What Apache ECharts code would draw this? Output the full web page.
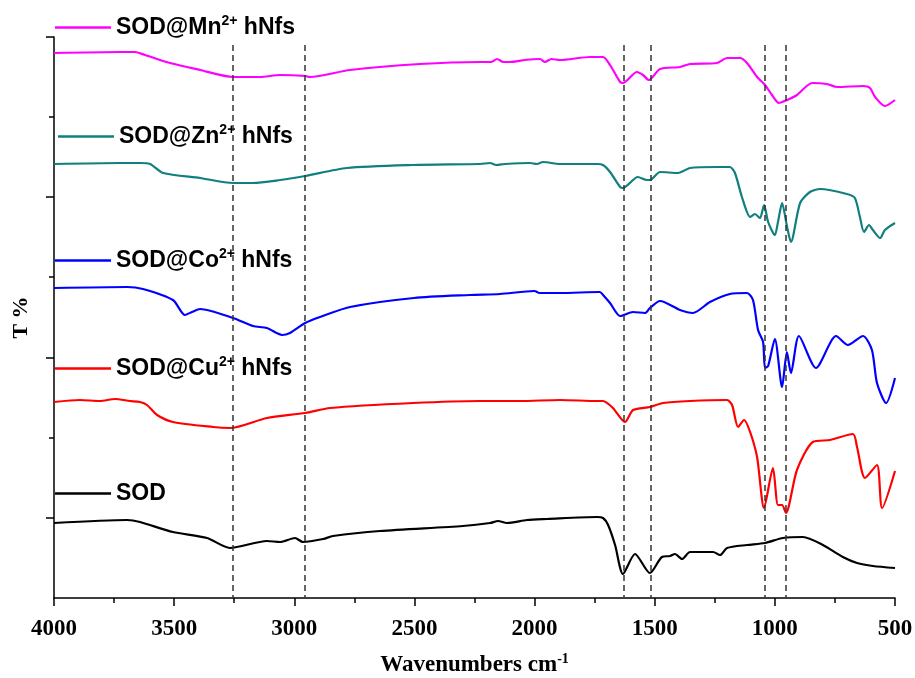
<!DOCTYPE html>
<html>
<head>
<meta charset="utf-8">
<script src="https://cdn.jsdelivr.net/npm/echarts@6/dist/echarts.min.js"></script>
<style>
  html, body { margin: 0; padding: 0; background: #fff; }
  #chart { width: 915px; height: 678px; }
</style>
</head>
<body>
<div id="chart"></div>
<script>
  // wavenumber (cm-1) / transmittance (arbitrary offset units)
  const sodMn = [[4000,545],[3725,546],[3663,546],[3621,543],[3517,535],[3392,528],[3255,521],[3143,521],[3059,523],[2955,522],[2935,521],[2768,528],[2477,534],[2227,536],[2180,536],[2156,539],[2130,536],[2102,536],[2040,538],[1977,539],[1957,536],[1930,539],[1894,538],[1769,541],[1715,541],[1686,533],[1644,516],[1632,515],[1574,526],[1549,523],[1524,518],[1478,529],[1395,531],[1353,534],[1241,535],[1199,540],[1145,540],[1116,535],[1074,521],[1041,513],[1012,503],[983,495],[949,498],[908,503],[845,515],[783,514],[741,511],[633,512],[604,510],[583,501],[542,492],[500,498]];
  const sodZn = [[4000,434],[3725,435],[3642,435],[3600,434],[3546,425],[3392,420],[3255,415],[3172,415],[3059,418],[2955,422],[2781,430],[2506,433],[2227,434],[2185,435],[2160,433],[2123,434],[2019,435],[1990,434],[1965,436],[1894,434],[1740,434],[1715,433],[1686,426],[1644,411],[1632,410],[1570,421],[1533,418],[1520,418],[1478,426],[1403,425],[1353,430],[1241,431],[1187,431],[1166,425],[1137,401],[1103,381],[1083,384],[1062,380],[1045,393],[1028,376],[1000,363],[987,376],[970,395],[949,371],[933,356],[895,395],[854,406],[812,409],[700,404],[667,400],[646,381],[629,366],[608,373],[592,368],[562,360],[542,368],[500,375]];
  const sodCo = [[4000,310],[3696,311],[3630,309],[3505,298],[3455,283],[3426,286],[3392,289],[3255,280],[3172,272],[3114,270],[3051,263],[3018,265],[2955,275],[2893,281],[2768,291],[2502,300],[2269,303],[2144,304],[2000,307],[1980,305],[1894,305],[1728,306],[1715,303],[1686,295],[1644,282],[1590,286],[1540,285],[1520,290],[1478,297],[1395,288],[1341,285],[1270,296],[1187,304],[1116,305],[1091,298],[1070,268],[1049,256],[1041,230],[1028,232],[1000,259],[970,211],[950,246],[933,225],[900,262],[829,230],[745,262],[696,253],[633,262],[596,248],[575,215],[537,195],[500,220]];
  const sodCu = [[4000,196],[3892,198],[3809,197],[3746,199],[3684,197],[3642,196],[3613,193],[3571,183],[3505,176],[3338,171],[3268,170],[3114,180],[2955,185],[2851,190],[2506,195],[2227,197],[2061,197],[1894,198],[1740,197],[1715,197],[1674,190],[1624,176],[1590,188],[1520,191],[1465,195],[1353,197],[1199,198],[1178,193],[1153,171],[1128,178],[1103,166],[1074,141],[1045,90],[1008,130],[987,93],[970,93],[954,85],[908,128],[842,156],[770,158],[675,164],[658,151],[625,120],[575,133],[554,90],[500,127]];
  const sodPure = [[4000,75],[3696,78],[3642,76],[3505,66],[3363,60],[3268,50],[3114,57],[3059,56],[2997,60],[2964,56],[2880,59],[2839,62],[2643,67],[2298,72],[2185,75],[2152,77],[2115,75],[2032,78],[1948,79],[1740,81],[1715,80],[1694,73],[1665,53],[1632,24],[1582,44],[1520,25],[1470,41],[1436,42],[1416,44],[1386,39],[1353,46],[1257,46],[1228,43],[1199,50],[1116,53],[1041,55],[966,60],[883,61],[800,53],[717,41],[658,35],[592,32],[500,30]];

  const seriesNames = ["SOD@Mn2+ hNfs", "SOD@Zn2+ hNfs", "SOD@Co2+ hNfs", "SOD@Cu2+ hNfs", "SOD"];
  const legendLabels = ["{a|SOD@Mn}{s|2+}{a| hNfs}", "{a|SOD@Zn}{s|2+}{a| hNfs}", "{a|SOD@Co}{s|2+}{a| hNfs}", "{a|SOD@Cu}{s|2+}{a| hNfs}", "{a|SOD}"];
  const seriesColors = ["#ff00ff", "#0f7f7f", "#0000ff", "#ff0000", "#000000"];
  const seriesData = [sodMn, sodZn, sodCo, sodCu, sodPure];
  const legendLeft = [55, 58, 55, 55, 55];
  const legendTop = [14, 123, 247, 355, 482];
  const dashLines = [3255, 2955, 1628, 1516, 1041, 954];
  const majorTicksY = [80, 240, 401, 561];
  const minorTicksY = [160, 321, 481];

  let myChart = echarts.init(document.getElementById("chart"));

  const sansBold = { fontFamily: "Liberation Sans", fontWeight: "bold", color: "#000" };
  const serifBold = { fontFamily: "Liberation Serif", fontWeight: "bold", color: "#000" };

  let option = {
    animation: false,
    backgroundColor: "#fff",
    grid: { left: 54, right: 20, top: 37, bottom: 80, containLabel: false, outerBoundsMode: "none" },
    legend: seriesNames.map(function (name, i) {
      return {
        data: [name],
        left: legendLeft[i],
        top: legendTop[i],
        padding: 0,
        icon: "rect",
        itemWidth: 56,
        itemHeight: 2.5,
        selectedMode: false,
        formatter: function () { return legendLabels[i]; },
        textStyle: {
          rich: {
            a: Object.assign({ fontSize: 23, lineHeight: 28 }, sansBold),
            s: Object.assign({ fontSize: 14, lineHeight: 28, padding: [0, 0, 13, 0] }, sansBold)
          }
        }
      };
    }),
    xAxis: {
      type: "value",
      inverse: true,
      min: 500,
      max: 4000,
      interval: 500,
      name: "{a|Wavenumbers cm}{s|-1}",
      nameLocation: "middle",
      nameGap: 53,
      nameTextStyle: {
        rich: {
          a: Object.assign({ fontSize: 23, lineHeight: 28 }, serifBold),
          s: Object.assign({ fontSize: 14, lineHeight: 28, padding: [0, 0, 12, 0] }, serifBold)
        }
      },
      axisLine: { lineStyle: { color: "#000", width: 1.5 } },
      axisTick: { length: 8, lineStyle: { color: "#000", width: 1.5 } },
      minorTick: { show: true, splitNumber: 2, length: 5, lineStyle: { color: "#000", width: 1.5 } },
      axisLabel: Object.assign({ fontSize: 23, margin: 20, formatter: function (v) { return String(v); } }, serifBold),
      splitLine: { show: false }
    },
    yAxis: [
      {
        type: "value",
        min: 0,
        max: 561,
        name: "T %",
        nameLocation: "middle",
        nameGap: 22,
        nameTextStyle: Object.assign({ fontSize: 22 }, serifBold),
        axisLine: { show: true, lineStyle: { color: "#000", width: 1.5 } },
        axisTick: { show: true, length: 8, customValues: majorTicksY, lineStyle: { color: "#000", width: 1.5 } },
        axisLabel: { show: false },
        splitLine: { show: false }
      },
      {
        type: "value",
        min: 0,
        max: 561,
        position: "left",
        axisLine: { show: false },
        axisTick: { show: true, length: 5, customValues: minorTicksY, lineStyle: { color: "#000", width: 1.5 } },
        axisLabel: { show: false },
        splitLine: { show: false }
      }
    ],
    series: seriesNames.map(function (name, i) {
      let s = {
        name: name,
        type: "line",
        data: seriesData[i],
        symbol: "none",
        smooth: 0.25,
        color: seriesColors[i],
        lineStyle: { color: seriesColors[i], width: 2.2 }
      };
      if (i === 4) {
        s.markLine = {
          silent: true,
          symbol: ["none", "none"],
          label: { show: false },
          lineStyle: { color: "#333", type: [6, 4], width: 1.5 },
          data: dashLines.map(function (w) { return [{ coord: [w, 553] }, { coord: [w, 0] }]; })
        };
      }
      return s;
    })
  };

  myChart.setOption(option);
</script>
</body>
</html>
